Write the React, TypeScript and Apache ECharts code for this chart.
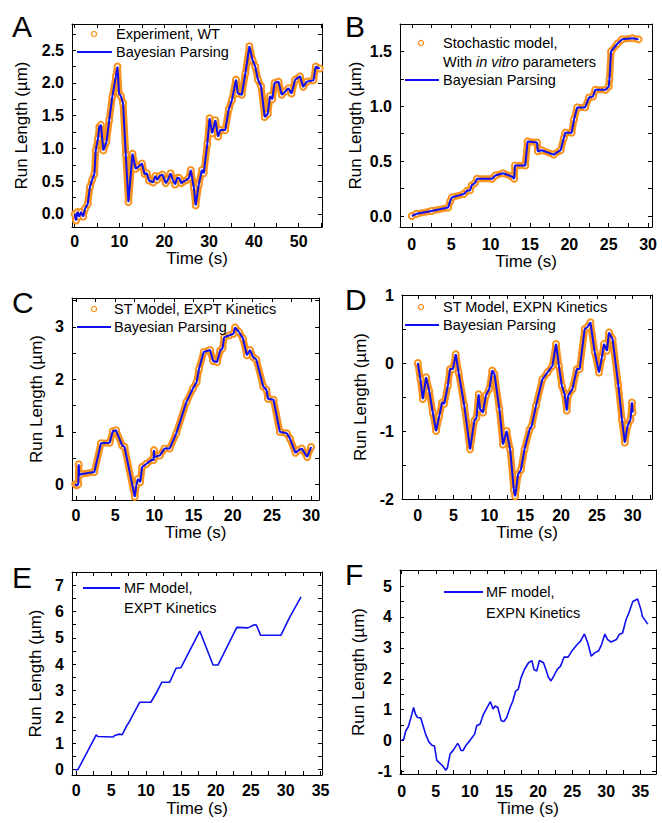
import React, { useEffect, useRef } from "react";
import * as echarts from "echarts";

// ---------- data (time s, run length µm) ----------
const traceA: number[][] = [
  [0.0, 0.0], [0.3, -0.1], [0.6, 0.03], [1.0, -0.04], [1.4, 0.03], [1.9, -0.04], [2.3, 0.08], [2.9, 0.15],
  [3.4, 0.41], [3.9, 0.52], [4.4, 0.61], [4.7, 0.97], [5.2, 1.15], [5.5, 1.33], [5.85, 1.36], [6.4, 0.97],
  [7.1, 1.1], [7.7, 1.43], [8.4, 1.79], [9.2, 2.1], [9.55, 2.25], [9.9, 1.84], [10.3, 1.8], [10.8, 1.69],
  [11.4, 0.9], [12.0, 0.18], [12.9, 0.92], [13.6, 0.69], [14.4, 0.73], [15.0, 0.77], [15.6, 0.61], [16.1, 0.62],
  [16.6, 0.51], [17.5, 0.48], [18.0, 0.58], [18.4, 0.52], [19.0, 0.58], [19.6, 0.6], [20.3, 0.47], [20.8, 0.52],
  [21.4, 0.62], [21.9, 0.52], [22.4, 0.45], [22.9, 0.55], [23.3, 0.55], [23.8, 0.47], [24.4, 0.5], [25.0, 0.52],
  [25.5, 0.55], [25.9, 0.67], [26.6, 0.4], [27.0, 0.13], [27.7, 0.45], [28.4, 0.67], [28.8, 0.62], [29.6, 1.07],
  [30.1, 1.46], [30.7, 1.23], [31.4, 1.43], [32.0, 1.18], [32.5, 1.28], [33.6, 1.28], [34.4, 1.6], [35.1, 1.74],
  [36.0, 2.05], [36.4, 1.84], [37.3, 1.82], [38.1, 2.15], [39.0, 2.56], [39.7, 2.35], [40.3, 2.25], [40.9, 2.05],
  [41.6, 1.95], [42.4, 1.48], [43.1, 1.53], [43.6, 1.8], [44.1, 1.75], [44.6, 2.0], [45.5, 2.02], [46.2, 1.82],
  [47.0, 1.87], [47.7, 1.92], [48.4, 1.84], [49.2, 2.05], [50.3, 2.1], [51.0, 1.94], [51.8, 2.02], [53.3, 2.04],
  [53.8, 2.25], [54.7, 2.22],
];

const traceB: number[][] = [
  [0, 0], [0.6, 0.02], [2.5, 0.046], [4.6, 0.077], [4.9, 0.14], [5.1, 0.17], [6.6, 0.2], [7.0, 0.23],
  [7.4, 0.235], [7.6, 0.28], [8.0, 0.3], [8.3, 0.34], [10.2, 0.34], [10.6, 0.37], [11.6, 0.39], [12.7, 0.36],
  [13.0, 0.34], [13.1, 0.46], [14.4, 0.46], [14.7, 0.68], [15.9, 0.67], [16.0, 0.59], [16.5, 0.6], [18.0, 0.56],
  [18.9, 0.6], [19.3, 0.71], [19.5, 0.76], [20.3, 0.76], [20.6, 0.88], [21.0, 0.99], [22.0, 0.99], [22.5, 1.08],
  [23.0, 1.09], [23.3, 1.15], [24.6, 1.15], [25.0, 1.18], [25.1, 1.25], [25.3, 1.5], [26.1, 1.57], [26.7, 1.61],
  [28.0, 1.62], [28.8, 1.61],
];

const traceC: number[][] = [
  [-0.1, 0.0], [0.1, -0.02], [0.3, 0.0], [0.35, 0.38], [0.45, 0.17], [0.6, 0.19], [2.35, 0.235], [3.2, 0.78],
  [4.3, 0.79], [4.7, 1.01], [5.1, 1.03], [5.9, 0.74], [6.2, 0.71], [7.5, -0.24], [7.7, -0.02], [7.9, 0.1],
  [8.2, 0.04], [8.45, 0.33], [9.0, 0.39], [9.6, 0.46], [9.9, 0.46], [9.95, 0.65], [10.0, 0.52], [10.7, 0.55],
  [11.3, 0.68], [11.95, 0.68], [12.8, 0.97], [14.1, 1.57], [14.9, 1.82], [15.4, 1.95], [15.7, 2.2], [16.3, 2.52],
  [17.1, 2.56], [17.5, 2.35], [18.0, 2.33], [18.4, 2.55], [18.7, 2.59], [18.9, 2.8], [19.6, 2.84], [20.1, 2.87],
  [20.3, 2.99], [20.8, 2.9], [21.3, 2.78], [21.8, 2.46], [22.2, 2.56], [22.6, 2.42], [23.0, 2.38], [23.9, 1.86],
  [24.3, 1.8], [24.5, 1.63], [25.2, 1.61], [26.0, 1.0], [26.9, 0.97], [27.3, 0.87], [28.0, 0.6], [28.4, 0.65],
  [28.8, 0.68], [29.5, 0.52], [30.0, 0.71],
];

const traceD: number[][] = [
  [0, 0], [0.37, -0.24], [0.7, -0.53], [1.16, -0.21], [1.6, -0.41], [2.1, -0.73], [2.56, -1.0], [3.0, -0.78],
  [3.4, -0.58], [3.7, -0.6], [4.2, -0.33], [4.5, -0.09], [4.9, -0.09], [5.3, 0.13], [5.7, -0.14], [6.5, -0.63],
  [7.3, -1.27], [7.9, -0.85], [8.2, -0.8], [8.5, -0.46], [8.7, -0.68], [9.1, -0.73], [9.5, -0.48], [10.0, -0.38],
  [10.4, -0.11], [10.7, -0.16], [11.4, -0.68], [11.9, -1.2], [12.4, -1.0], [12.9, -1.27], [13.4, -1.86], [13.6, -1.96],
  [14.0, -1.64], [14.4, -1.57], [14.9, -1.27], [15.6, -0.98], [15.9, -0.93], [16.5, -0.63], [17.4, -0.24], [18.1, -0.14],
  [18.8, -0.04], [19.3, 0.28], [19.7, -0.04], [20.1, -0.33], [20.5, -0.46], [20.8, -0.7], [21.0, -0.48], [21.6, -0.38],
  [22.2, -0.09], [22.6, -0.09], [23.3, 0.5], [23.7, 0.53], [24.1, 0.6], [24.7, 0.16], [25.3, -0.14], [25.7, 0.08],
  [26.0, 0.28], [26.4, 0.18], [26.7, 0.45], [27.2, 0.35], [28.0, -0.33], [28.5, -0.83], [28.9, -1.17], [29.3, -0.92],
  [29.7, -0.83], [29.9, -0.58], [30.0, -0.73],
];

const traceE: number[][] = [
  [-0.2, 0], [0.24, 0], [2.87, 1.32], [3.1, 1.26], [5.3, 1.24], [5.5, 1.3], [6.2, 1.35], [6.6, 1.33],
  [7.3, 1.7], [7.5, 1.77], [9.1, 2.56], [10.7, 2.56], [11.45, 2.9], [12.27, 3.32], [13.4, 3.32], [14.3, 3.85],
  [15.0, 3.87], [17.7, 5.26], [19.6, 3.97], [20.3, 3.97], [23.0, 5.4], [24.6, 5.38], [25.5, 5.5], [25.8, 5.49],
  [26.4, 5.1], [29.3, 5.1], [30.6, 5.8], [31.0, 5.99], [32.2, 6.56],
];

const traceF: number[][] = [
  [0, 0], [0.3, 0.05], [0.6, 0.32], [0.97, 0.45], [1.36, 0.75], [1.75, 1.07], [2.0, 0.86], [2.33, 0.75],
  [2.8, 0.73], [3.06, 0.54], [3.5, 0.21], [4.0, -0.05], [4.5, -0.16], [4.8, -0.17], [5.15, -0.64], [5.7, -0.75],
  [6.1, -0.84], [6.45, -0.96], [6.7, -0.88], [7.1, -0.43], [7.6, -0.3], [8.2, -0.09], [8.4, -0.16], [8.7, -0.32],
  [9.0, -0.32], [9.4, -0.16], [10.0, 0], [10.3, 0.09], [10.7, 0.21], [11.0, 0.48], [11.5, 0.54], [12.0, 0.86],
  [12.4, 1.02], [13.0, 1.26], [13.4, 1.02], [13.7, 1.12], [14.1, 1.07], [14.6, 0.64], [15.0, 0.62], [15.4, 0.75],
  [15.9, 1.07], [16.3, 1.28], [16.7, 1.6], [17.1, 1.66], [17.5, 2.03], [18.0, 2.3], [18.6, 2.52], [19.1, 2.59],
  [19.4, 2.3], [19.8, 2.25], [20.2, 2.59], [20.8, 2.52], [21.2, 2.27], [21.5, 2.06], [21.9, 1.93], [22.3, 2.09],
  [22.8, 2.3], [23.3, 2.41], [23.8, 2.7], [24.4, 2.7], [25.0, 2.91], [25.7, 3.1], [26.2, 3.21], [26.8, 3.45],
  [27.3, 3.16], [27.8, 2.73], [28.3, 2.84], [28.9, 2.91], [29.3, 3.1], [29.8, 3.45], [30.2, 3.27], [30.7, 3.19],
  [31.5, 3.27], [31.9, 3.43], [32.4, 3.48], [32.9, 3.91], [33.3, 4.12], [33.9, 4.5], [34.6, 4.58], [35.1, 4.23],
  [35.3, 4.02], [36.1, 3.77],
];

// ---------- ticks ----------
const xLabelsA = [0, 10, 20, 30, 40, 50];
const xTicksA = [0, 5, 10, 15, 20, 25, 30, 35, 40, 45, 50, 55];
const yLabelsA = [0, 0.5, 1, 1.5, 2, 2.5];
const yTicksA = [0, 0.25, 0.5, 0.75, 1, 1.25, 1.5, 1.75, 2, 2.25, 2.5, 2.75];

const xLabelsB = [0, 5, 10, 15, 20, 25, 30];
const xTicksB = [0, 2.5, 5, 7.5, 10, 12.5, 15, 17.5, 20, 22.5, 25, 27.5, 30];
const yLabelsB = [0, 0.5, 1, 1.5];
const yTicksB = [0, 0.25, 0.5, 0.75, 1, 1.25, 1.5, 1.75];

const xLabelsC = [0, 5, 10, 15, 20, 25, 30];
const xTicksC = [0, 2.5, 5, 7.5, 10, 12.5, 15, 17.5, 20, 22.5, 25, 27.5, 30];
const yLabelsC = [0, 1, 2, 3];
const yTicksC = [0, 0.5, 1, 1.5, 2, 2.5, 3, 3.5];

const xLabelsD = [0, 5, 10, 15, 20, 25, 30];
const xTicksD = [0, 2.5, 5, 7.5, 10, 12.5, 15, 17.5, 20, 22.5, 25, 27.5, 30, 32.5];
const yLabelsD = [-2, -1, 0, 1];
const yTicksD = [-2, -1.5, -1, -0.5, 0, 0.5, 1];

const xLabelsE = [0, 5, 10, 15, 20, 25, 30, 35];
const xTicksE = [0, 2.5, 5, 7.5, 10, 12.5, 15, 17.5, 20, 22.5, 25, 27.5, 30, 32.5, 35];
const yLabelsE = [0, 1, 2, 3, 4, 5, 6, 7];
const yTicksE = [0, 0.5, 1, 1.5, 2, 2.5, 3, 3.5, 4, 4.5, 5, 5.5, 6, 6.5, 7, 7.5];

const xLabelsF = [0, 5, 10, 15, 20, 25, 30, 35];
const xTicksF = [0, 2.5, 5, 7.5, 10, 12.5, 15, 17.5, 20, 22.5, 25, 27.5, 30, 32.5, 35];
const yLabelsF = [-1, 0, 1, 2, 3, 4, 5];
const yTicksF = [-1, -0.5, 0, 0.5, 1, 1.5, 2, 2.5, 3, 3.5, 4, 4.5, 5, 5.5];

// ---------- style ----------
const ORANGE = "#f7931e";
const BLUE = "#0f0ff2";
const FONT = "'Liberation Sans', Arial, Helvetica, sans-serif";

type Panel = {
  letter: string; trace: number[][]; withExp: boolean; expName: string;
  xr: number[]; yr: number[];
  xl: number[]; xt: number[]; yl: number[]; yt: number[]; yFixed: boolean;
  box: { l: number; t: number; w: number; h: number };
  yGap: number; xGap: number; xMargin: number;
};

const panels: Panel[] = [
  { letter: "A", trace: traceA, withExp: true, expName: "Experiment, WT", xr: [-0.6, 55.2], yr: [-0.2, 2.9],
    xl: xLabelsA, xt: xTicksA, yl: yLabelsA, yt: yTicksA, yFixed: true,
    box: { l: 72, t: 24, w: 250, h: 203 }, yGap: 42, xGap: 20, xMargin: 6 },
  { letter: "B", trace: traceB, withExp: true, expName: "Stochastic model, With in vitro parameters", xr: [-1.5, 30.5], yr: [-0.1, 1.75],
    xl: xLabelsB, xt: xTicksB, yl: yLabelsB, yt: yTicksB, yFixed: true,
    box: { l: 400, t: 24, w: 252, h: 203 }, yGap: 36, xGap: 22, xMargin: 9 },
  { letter: "C", trace: traceC, withExp: true, expName: "ST Model, EXPT Kinetics", xr: [-0.5, 31], yr: [-0.3, 3.55],
    xl: xLabelsC, xt: xTicksC, yl: yLabelsC, yt: yTicksC, yFixed: false,
    box: { l: 72, t: 298, w: 247, h: 202 }, yGap: 27, xGap: 18, xMargin: 7 },
  { letter: "D", trace: traceD, withExp: true, expName: "ST Model, EXPN Kinetics", xr: [-2.2, 32.7], yr: [-2, 1],
    xl: xLabelsD, xt: xTicksD, yl: yLabelsD, yt: yTicksD, yFixed: false,
    box: { l: 402, t: 295, w: 250, h: 204 }, yGap: 33, xGap: 19, xMargin: 8 },
  { letter: "E", trace: traceE, withExp: false, expName: "", xr: [-0.6, 35.2], yr: [-0.2, 7.5],
    xl: xLabelsE, xt: xTicksE, yl: yLabelsE, yt: yTicksE, yFixed: false,
    box: { l: 72, t: 572, w: 250, h: 203 }, yGap: 28, xGap: 25, xMargin: 7 },
  { letter: "F", trace: traceF, withExp: false, expName: "", xr: [-0.25, 37.3], yr: [-1.08, 5.52],
    xl: xLabelsF, xt: xTicksF, yl: yLabelsF, yt: yTicksF, yFixed: false,
    box: { l: 400, t: 570, w: 256, h: 204 }, yGap: 33, xGap: 24, xMargin: 9 },
];

const lineColor = { color: "#000", width: 1 };

function buildOption() {
  const grid: any[] = [];
  const xAxis: any[] = [];
  const yAxis: any[] = [];
  const series: any[] = [];
  panels.forEach((p, i) => {
    grid.push({ left: p.box.l, top: p.box.t, width: p.box.w, height: p.box.h, show: false });
    xAxis.push({
      type: "value", gridIndex: i, position: "bottom", min: p.xr[0], max: p.xr[1],
      axisLine: { show: true, onZero: false, lineStyle: lineColor },
      axisTick: { show: true, inside: true, length: 4, customValues: p.xt, lineStyle: lineColor },
      axisLabel: { show: true, customValues: p.xl, margin: p.xMargin, fontWeight: "bold", fontSize: 16, color: "#000", fontFamily: FONT },
      splitLine: { show: false },
      name: "Time (s)", nameLocation: "middle", nameGap: p.xGap,
      nameTextStyle: { fontSize: 17, color: "#000", fontFamily: FONT },
    });
    xAxis.push({
      type: "value", gridIndex: i, position: "top", min: p.xr[0], max: p.xr[1],
      axisLine: { show: true, onZero: false, lineStyle: lineColor },
      axisTick: { show: true, inside: true, length: 4, customValues: p.xt, lineStyle: lineColor },
      axisLabel: { show: false }, splitLine: { show: false },
    });
    yAxis.push({
      type: "value", gridIndex: i, position: "left", min: p.yr[0], max: p.yr[1],
      axisLine: { show: true, onZero: false, lineStyle: lineColor },
      axisTick: { show: true, inside: true, length: 4, customValues: p.yt, lineStyle: lineColor },
      axisLabel: {
        show: true, customValues: p.yl, margin: 8, fontWeight: "bold", fontSize: 16, color: "#000", fontFamily: FONT,
        formatter: (v: number) => (p.yFixed ? v.toFixed(1) : String(v)),
      },
      splitLine: { show: false },
      name: "Run Length (\u00b5m)", nameLocation: "middle", nameGap: p.yGap,
      nameTextStyle: { fontSize: 17, color: "#000", fontFamily: FONT },
    });
    yAxis.push({
      type: "value", gridIndex: i, position: "right", min: p.yr[0], max: p.yr[1],
      axisLine: { show: true, onZero: false, lineStyle: lineColor },
      axisTick: { show: true, inside: true, length: 4, customValues: p.yt, lineStyle: lineColor },
      axisLabel: { show: false }, splitLine: { show: false },
    });
    if (p.withExp) {
      series.push({
        type: "line", name: p.expName, xAxisIndex: 2 * i, yAxisIndex: 2 * i, data: p.trace,
        symbol: "emptyCircle", symbolSize: 6, showSymbol: true, showAllSymbol: true,
        itemStyle: { color: ORANGE, borderColor: ORANGE, borderWidth: 1.3 },
        lineStyle: { color: ORANGE, width: 7 }, z: 2, silent: true,
      });
      series.push({
        type: "line", name: "Bayesian Parsing", xAxisIndex: 2 * i, yAxisIndex: 2 * i, data: p.trace,
        symbol: "none", lineStyle: { color: BLUE, width: 2 }, z: 3, silent: true,
      });
    } else {
      series.push({
        type: "line", name: i === 4 ? "MF Model, EXPT Kinetics" : "MF model, EXPN Kinetics",
        xAxisIndex: 2 * i, yAxisIndex: 2 * i, data: p.trace,
        symbol: "none", lineStyle: { color: BLUE, width: 1.6 }, z: 3, silent: true,
      });
    }
  });

  const txt = (text: string, x: number, y: number, size = 14.5, extra: any = {}) => ({
    type: "text", x, y, z: 10,
    style: { text, fontSize: size, fontFamily: FONT, fill: "#000", align: "left", verticalAlign: "middle", ...extra },
  });
  const circ = (cx: number, cy: number) => ({
    type: "circle", z: 10, shape: { cx, cy, r: 2.6 }, style: { fill: "#fff", stroke: ORANGE, lineWidth: 1.3 },
  });
  const seg = (x1: number, x2: number, y: number) => ({
    type: "line", z: 10, shape: { x1, y1: y, x2, y2: y }, style: { stroke: BLUE, lineWidth: 1.8 },
  });

  const letters = panels.map((p, i) => {
    const pos = [[12, 26], [345, 26], [12, 302], [345, 299], [12, 577], [345, 574]][i];
    return txt(p.letter, pos[0], pos[1], 30);
  });

  const graphic = [
    ...letters,
    // A
    circ(94, 34), txt("Experiment, WT", 116, 34), seg(77, 112, 52), txt("Bayesian Parsing", 116, 52),
    // B
    circ(421, 43), txt("Stochastic model,", 443, 43),
    txt("{n|With }{i|in vitro}{n| parameters}", 443, 62, 14.5, {
      rich: {
        n: { fontSize: 14.5, fontFamily: FONT, fill: "#000" },
        i: { fontSize: 14.5, fontFamily: FONT, fill: "#000", fontStyle: "italic" },
      },
    }),
    seg(405, 439, 80), txt("Bayesian Parsing", 443, 80),
    // C
    circ(94, 309), txt("ST Model, EXPT Kinetics", 114, 309), seg(77, 111, 327), txt("Bayesian Parsing", 114, 327),
    // D
    circ(421, 307), txt("ST Model, EXPN Kinetics", 443, 307), seg(405, 439, 325), txt("Bayesian Parsing", 443, 325),
    // E
    seg(83, 120, 588), txt("MF Model,", 124, 588), txt("EXPT Kinetics", 124, 608),
    // F
    seg(444, 483, 592), txt("MF model,", 486, 592), txt("EXPN Kinetics", 486, 613),
  ];

  return {
    animation: false,
    backgroundColor: "#fff",
    textStyle: { fontFamily: FONT },
    grid, xAxis, yAxis, series, graphic,
  };
}

export default function App() {
  const ref = useRef<HTMLDivElement>(null);
  useEffect(() => {
    if (!ref.current) return;
    const chart = echarts.init(ref.current, undefined, { renderer: "svg" });
    chart.setOption(buildOption() as any);
    return () => chart.dispose();
  }, []);
  return <div ref={ref} style={{ position: "absolute", left: 0, top: 0, width: 662, height: 823, background: "#fff" }} />;
}
